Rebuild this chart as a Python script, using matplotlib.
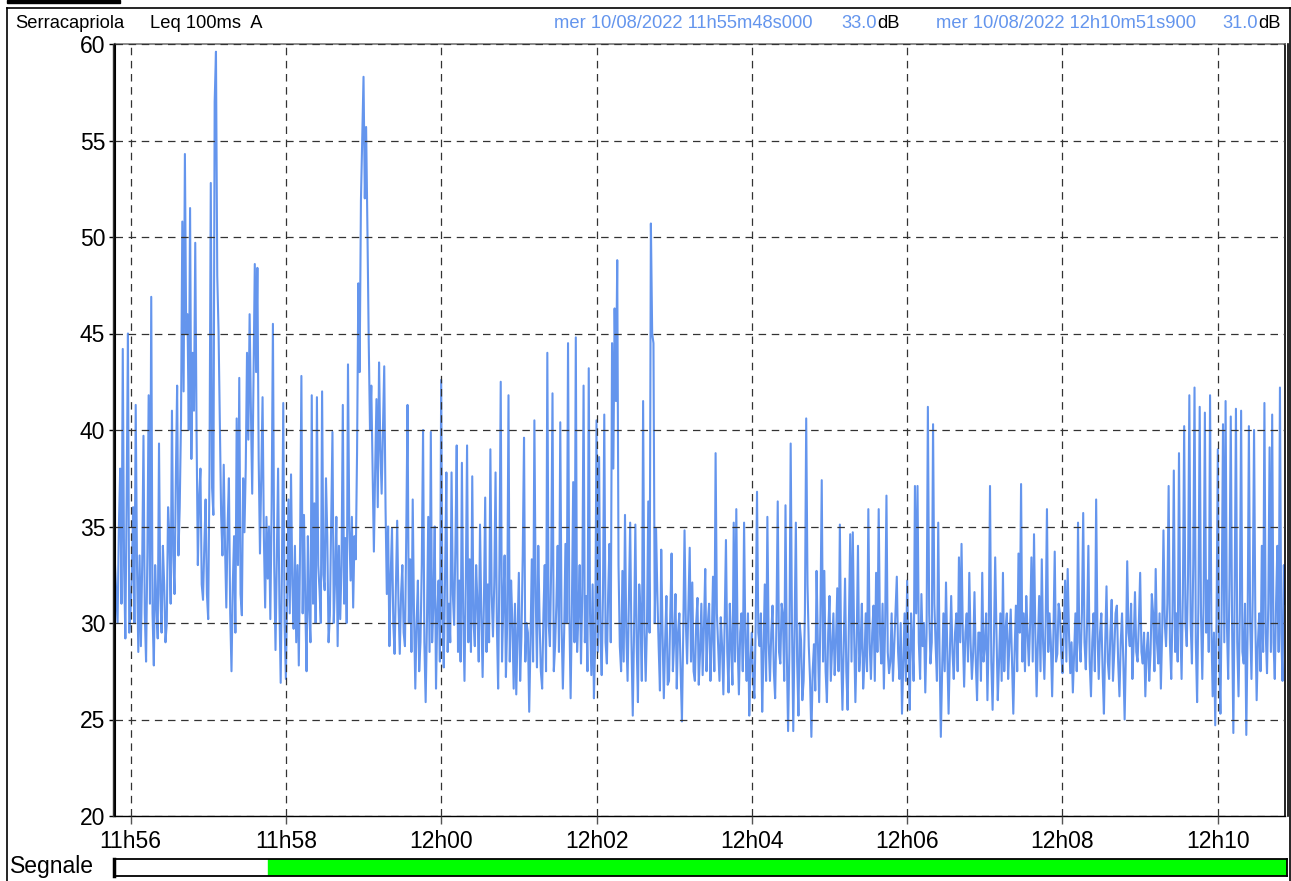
import matplotlib
matplotlib.use("Agg")
import matplotlib.dates as mdates
import matplotlib.pyplot as plt
import numpy as np
import pandas as pd
from matplotlib.lines import Line2D
from matplotlib.patches import Rectangle

plt.rcParams['font.family'] = ['Liberation Sans', 'DejaVu Sans']

# --- data -------------------------------------------------------------------
STATION = "Serracapriola"
METRIC = "Leq 100ms  A"
START = pd.Timestamp("2022-08-10 11:55:48.000")
END = pd.Timestamp("2022-08-10 12:10:51.900")
START_LABEL = "mer 10/08/2022 11h55m48s000"
END_LABEL = "mer 10/08/2022 12h10m51s900"
START_LEVEL = 33.0
END_LEVEL = 31.0
STEP_S = 1.0                                        # one value read every second
SIGNAL_OK_FROM = pd.Timestamp("2022-08-10 11:57:47")

Y_TICKS = [20, 25, 30, 35, 40, 45, 50, 55, 60]

# Leq (dB) at even seconds (0, 2, 4 ...), 20 s per row
LEQ_DB_EVEN_S = [
    33.0, 30.0, 38.0, 44.2, 29.2, 45.0, 30.5, 36.0, 41.3, 28.5,
    28.8, 39.7, 28.0, 41.8, 46.9, 27.8, 31.0, 39.3, 29.5, 32.0,
    30.0, 34.5, 41.0, 31.5, 42.3, 36.0, 50.8, 54.3, 46.0, 51.5,
    44.0, 49.7, 33.0, 38.0, 31.2, 36.4, 30.2, 52.8, 35.6, 59.6,
    45.1, 35.6, 38.2, 30.8, 37.5, 27.5, 34.5, 40.6, 42.7, 30.4,
    34.7, 44.0, 46.0, 36.7, 48.6, 48.4, 33.6, 41.7, 30.8, 32.3,
    30.2, 45.5, 28.6, 38.0, 26.9, 41.4, 27.1, 36.4, 37.7, 29.7,
    29.0, 27.8, 42.8, 35.6, 27.5, 30.8, 41.8, 36.2, 41.7, 31.7,
    42.0, 31.7, 34.5, 30.4, 39.9, 32.2, 28.8, 30.2, 41.3, 34.4,
    43.4, 32.2, 30.8, 33.3, 47.6, 51.9, 58.3, 55.7, 44.7, 42.3,
    33.7, 41.6, 43.5, 36.7, 43.3, 31.5, 28.8, 34.9, 28.4, 35.3,
    28.4, 33.0, 28.8, 41.3, 33.3, 36.4, 26.6, 32.2, 29.0, 40.0,
    25.9, 35.5, 39.9, 31.0, 26.6, 32.2, 42.6, 27.7, 37.8, 31.0,
    37.8, 29.9, 39.2, 32.2, 38.3, 27.0, 39.2, 33.3, 37.6, 28.8,
    31.0, 35.1, 27.2, 36.5, 32.0, 39.0, 29.3, 37.8, 26.6, 42.5,
    31.0, 27.2, 41.8, 32.2, 26.6, 26.3, 32.6, 29.3, 39.6, 30.0,
    25.4, 33.3, 40.5, 27.7, 30.2, 26.6, 33.0, 44.0, 28.8, 41.9,
    28.8, 34.0, 40.4, 26.6, 34.1, 44.5, 26.1, 37.3, 44.8, 30.5,
    27.9, 42.3, 31.4, 43.2, 27.3, 26.1, 40.5, 38.6, 27.3, 40.8,
    27.9, 34.1, 44.5, 46.3, 48.8, 28.8, 32.7, 35.6, 27.0, 35.2,
    25.2, 35.1, 25.9, 30.5, 41.5, 27.0, 36.3, 50.7, 44.5, 34.9,
    28.8, 33.8, 26.1, 31.4, 27.0, 33.6, 29.1, 26.6, 30.5, 24.9,
    34.8, 27.9, 33.9, 32.1, 27.0, 31.3, 28.5, 27.3, 32.8, 30.0,
    27.0, 32.4, 38.8, 28.8, 30.3, 26.3, 34.3, 26.4, 28.8, 35.2,
    35.9, 26.3, 30.5, 35.2, 27.0, 25.2, 29.5, 26.1, 36.8, 28.8,
    25.4, 32.0, 35.5, 27.0, 30.9, 26.1, 36.3, 27.9, 30.4, 36.1,
    24.4, 39.3, 24.4, 35.2, 25.2, 29.1, 27.0, 40.6, 28.8, 24.1,
    28.9, 32.7, 25.9, 37.4, 32.7, 25.9, 31.4, 28.8, 27.3, 31.8,
    35.1, 25.5, 32.3, 25.5, 34.6, 34.7, 25.9, 34.0, 28.8, 26.6,
    30.5, 35.9, 27.1, 30.9, 32.6, 35.9, 27.9, 26.6, 36.6, 27.4,
    30.5, 28.8, 32.4, 27.1, 25.3, 30.5, 32.2, 25.5, 29.1, 37.1,
    37.1, 27.1, 28.8, 26.4, 41.2, 27.9, 40.3, 28.8, 35.2, 24.1,
    30.5, 32.1, 25.3, 31.4, 27.1, 30.5, 33.4, 34.1, 26.7, 30.5,
    32.6, 27.1, 31.6, 26.0, 29.5, 32.6, 28.8, 26.0, 37.1, 25.5,
    33.4, 26.0, 30.5, 32.6, 29.7, 27.1, 30.7, 25.3, 30.9, 33.6,
    37.2, 30.5, 31.4, 27.8, 33.4, 34.6, 26.2, 31.4, 33.3, 27.1,
    35.9, 30.5, 26.2, 33.7, 28.4, 30.5, 27.4, 32.2, 32.8, 27.4,
    26.4, 30.5, 35.2, 28.0, 35.7, 27.6, 34.0, 26.2, 30.5, 36.4,
    27.1, 30.5, 25.3, 31.9, 27.1, 31.2, 28.5, 30.9, 26.2, 30.5,
    25.0, 33.2, 28.8, 27.1, 31.6, 28.0, 32.6, 27.9, 26.2, 29.5,
    28.4, 30.5, 32.8, 27.9, 26.6, 34.8, 28.8, 37.1, 27.1, 37.9,
    30.5, 38.8, 27.1, 40.2, 28.8, 41.8, 27.9, 42.2, 25.9, 41.2,
    27.1, 40.9, 32.2, 41.8, 26.2, 24.7, 39.0, 25.3, 40.3, 41.5,
    27.1, 40.7, 24.3, 41.1, 26.2, 41.0, 27.9, 24.2, 40.2, 27.1,
    40.0, 26.0, 30.5, 34.0, 41.4, 27.4, 39.1, 40.8, 27.1, 34.0,
    42.2, 27.0, 31.0,
]

# Leq (dB) of the dense band at odd seconds (1, 3, 5 ...), 20 s per row
LEQ_DB_ODD_S = [
    31.5, 35.0, 31.0, 33.0, 36.5, 29.5, 32.5, 30.0, 33.0, 33.5,
    33.0, 30.5, 33.5, 31.0, 30.5, 33.0, 29.2, 31.5, 34.0, 29.0,
    36.0, 31.0, 33.5, 37.5, 33.5, 40.5, 42.0, 45.0, 40.0, 38.5,
    41.0, 40.0, 36.5, 32.0, 34.0, 31.5, 38.0, 37.0, 57.0, 48.0,
    40.5, 33.5, 34.0, 35.0, 30.5, 32.0, 29.5, 33.0, 31.5, 37.5,
    38.0, 39.5, 41.0, 42.5, 43.0, 38.5, 37.5, 34.5, 35.5, 35.0,
    36.0, 33.0, 33.5, 31.0, 33.0, 30.0, 31.5, 30.5, 32.0, 34.0,
    33.0, 34.0, 30.5, 31.0, 34.5, 29.0, 31.0, 30.0, 33.0, 30.0,
    32.5, 37.5, 29.0, 35.0, 30.0, 35.5, 34.0, 33.0, 31.0, 30.0,
    35.0, 35.5, 34.5, 38.8, 43.0, 55.0, 52.0, 50.5, 40.0, 38.0,
    38.0, 36.0, 39.0, 40.0, 36.0, 35.0, 32.5, 30.0, 32.0, 31.0,
    31.5, 29.5, 34.5, 30.0, 28.5, 30.5, 30.0, 27.5, 33.0, 29.0,
    30.0, 28.5, 29.0, 35.0, 30.5, 28.0, 30.0, 32.5, 28.5, 29.0,
    31.5, 34.0, 28.5, 28.0, 30.5, 32.0, 29.0, 28.5, 30.0, 33.0,
    28.0, 30.5, 31.0, 28.5, 29.0, 31.5, 32.0, 30.0, 33.0, 28.0,
    33.5, 30.0, 28.0, 30.0, 31.0, 29.5, 27.0, 33.5, 28.0, 29.5,
    29.0, 28.0, 31.5, 34.0, 27.5, 30.5, 27.5, 30.0, 33.0, 27.5,
    31.0, 28.5, 30.0, 29.5, 30.0, 30.5, 31.0, 29.0, 28.5, 33.0,
    31.5, 29.0, 27.5, 30.5, 32.0, 29.0, 28.5, 29.5, 31.5, 29.0,
    31.5, 29.0, 38.0, 41.5, 33.0, 27.5, 28.0, 29.5, 31.0, 29.0,
    29.5, 29.0, 32.0, 27.0, 29.5, 30.0, 29.5, 45.0, 30.0, 31.5,
    26.5, 29.5, 29.0, 26.8, 30.5, 27.5, 31.5, 29.5, 27.5, 29.5,
    30.0, 31.0, 28.0, 27.5, 30.0, 26.8, 31.0, 29.8, 27.5, 31.0,
    29.0, 27.5, 30.5, 27.0, 28.8, 30.0, 28.5, 31.0, 26.8, 28.0,
    29.0, 29.5, 27.5, 29.0, 30.5, 28.0, 27.0, 30.0, 29.5, 30.5,
    28.5, 27.0, 29.0, 29.5, 27.5, 30.0, 28.5, 31.0, 27.0, 28.5,
    28.5, 30.0, 29.5, 28.0, 30.0, 26.0, 30.5, 32.0, 27.0, 27.5,
    26.5, 29.0, 30.5, 28.0, 27.5, 29.5, 27.0, 30.5, 29.0, 27.5,
    28.5, 29.0, 27.5, 30.0, 28.0, 29.5, 29.0, 27.5, 31.0, 28.0,
    27.5, 29.0, 29.5, 27.0, 28.5, 29.5, 31.0, 30.0, 28.5, 28.0,
    27.0, 30.5, 28.5, 30.0, 28.0, 27.0, 28.5, 30.5, 27.0, 30.5,
    29.0, 31.5, 30.0, 29.5, 30.5, 29.0, 31.0, 27.0, 28.5, 27.5,
    27.5, 28.5, 28.5, 28.5, 29.5, 27.5, 29.0, 29.5, 29.5, 28.0,
    29.0, 28.5, 28.0, 29.5, 27.0, 28.0, 30.5, 29.5, 28.0, 29.0,
    29.5, 28.0, 27.0, 27.5, 30.5, 29.0, 28.0, 28.5, 27.5, 29.5,
    28.0, 27.5, 29.5, 30.0, 28.0, 29.5, 29.0, 27.5, 29.0, 30.0,
    28.5, 29.0, 29.5, 28.0, 31.0, 28.5, 29.5, 28.0, 29.5, 29.0,
    28.5, 27.5, 29.0, 30.5, 29.0, 30.0, 28.0, 29.0, 27.5, 29.5,
    29.5, 27.5, 29.0, 28.0, 29.5, 27.0, 30.5, 28.0, 29.0, 28.0,
    28.5, 29.5, 31.0, 29.0, 28.5, 30.0, 28.5, 29.5, 28.5, 27.0,
    31.5, 27.5, 29.0, 30.5, 29.5, 30.0, 31.0, 29.0, 30.5, 28.5,
    28.0, 30.0, 31.5, 30.0, 32.5, 30.0, 33.0, 29.0, 31.0, 30.5,
    31.0, 29.5, 28.5, 30.0, 29.5, 30.0, 28.5, 31.0, 29.0, 30.0,
    32.0, 30.0, 31.5, 29.0, 30.5, 28.5, 31.0, 29.5, 30.0, 31.5,
    30.0, 29.0, 27.5, 28.5, 29.5, 31.0, 28.5, 29.0, 31.0, 28.5,
    29.5, 33.0,
]

LINE_BLUE = "#6495ED"
SIGNAL_GREEN = "#00FF00"
W, H = 1291, 881


def fx(x):
    return x / W


def fy(y):
    return 1 - y / H


leq_values = np.empty(len(LEQ_DB_EVEN_S) + len(LEQ_DB_ODD_S))
leq_values[0::2] = LEQ_DB_EVEN_S
leq_values[1::2] = LEQ_DB_ODD_S
times = START + pd.to_timedelta(np.arange(len(leq_values)) * STEP_S, unit="s")
leq = pd.Series(leq_values, index=times)

fig = plt.figure(figsize=(W / 100, H / 100), dpi=100)

# main plot area (pixel box 115..1285 x 44..816)
ax = fig.add_axes([fx(115), fy(816), fx(1285 - 115), (816 - 44) / H])
ax.plot(leq.index, leq.values, color=LINE_BLUE, linewidth=1.5, zorder=2)
ax.set_xlim(START, END)
ax.set_ylim(20, 60)
ax.set_yticks(Y_TICKS)
ax.xaxis.set_major_locator(mdates.MinuteLocator(byminute=range(0, 60, 2)))
ax.xaxis.set_major_formatter(mdates.DateFormatter("%Hh%M"))

for lab in ax.get_xticklabels() + ax.get_yticklabels():
    lab.set_fontsize(16.5)
ax.tick_params(axis='x', direction='out', length=6, width=1, color='#555555', pad=4)
ax.tick_params(axis='y', direction='out', length=4, width=1, pad=3)

ax.set_axisbelow(False)
ax.grid(True, color='#333333', linestyle=(0, (6, 4.5)), linewidth=0.9)

ax.spines['top'].set_color('#777777')
ax.spines['top'].set_linewidth(1.2)
ax.spines['bottom'].set_linewidth(1.0)
ax.spines['left'].set_linewidth(1.5)
ax.spines['right'].set_linewidth(1.2)
# doubled spines on the left and right
fig.add_artist(Line2D([fx(113), fx(113)], [fy(816), fy(44)], color='#333333', lw=1.0))
fig.add_artist(Line2D([fx(1287.5), fx(1287.5)], [fy(816), fy(44)], color='black', lw=1.2))

# header
fig.text(fx(15), fy(24), STATION, fontsize=13.2, va='center', ha='left')
fig.text(fx(150), fy(24), METRIC, fontsize=13.2, va='center', ha='left')
fig.text(fx(554), fy(24), START_LABEL, fontsize=13.2, va='center', ha='left', color=LINE_BLUE)
fig.text(fx(877), fy(24), f"{START_LEVEL:.1f}", fontsize=13.2, va='center', ha='right', color=LINE_BLUE)
fig.text(fx(877), fy(24), "dB", fontsize=13.2, va='center', ha='left')
fig.text(fx(936), fy(24), END_LABEL, fontsize=13.2, va='center', ha='left', color=LINE_BLUE)
fig.text(fx(1258), fy(24), f"{END_LEVEL:.1f}", fontsize=13.2, va='center', ha='right', color=LINE_BLUE)
fig.text(fx(1258), fy(24), "dB", fontsize=13.2, va='center', ha='left')

# signal bar
sax = fig.add_axes([fx(114), fy(876), fx(1287 - 114), (876 - 859) / H])
sax.set_xlim(START, END)
sax.set_ylim(0, 1)
sax.axvspan(START, SIGNAL_OK_FROM, color='white')
sax.axvspan(SIGNAL_OK_FROM, END, color=SIGNAL_GREEN)
sax.set_xticks([])
sax.set_yticks([])
for s in sax.spines.values():
    s.set_linewidth(1.3)
sax.spines['left'].set_linewidth(2.5)
fig.text(fx(10), fy(867), "Segnale", fontsize=16.5, va='center', ha='left')

# outer frame
fig.add_artist(Line2D([fx(7), fx(7)], [fy(8), 0], color='black', lw=1.2))
fig.add_artist(Line2D([fx(7), 1], [fy(8), fy(8)], color='black', lw=1.2))
fig.add_artist(Line2D([fx(1289.5), fx(1289.5)], [fy(8), 0], color='black', lw=1.2))
fig.add_artist(Rectangle((fx(7), fy(3)), fx(113), 3 / H, color='black', transform=fig.transFigure))

fig.savefig("out.png", dpi=100)
